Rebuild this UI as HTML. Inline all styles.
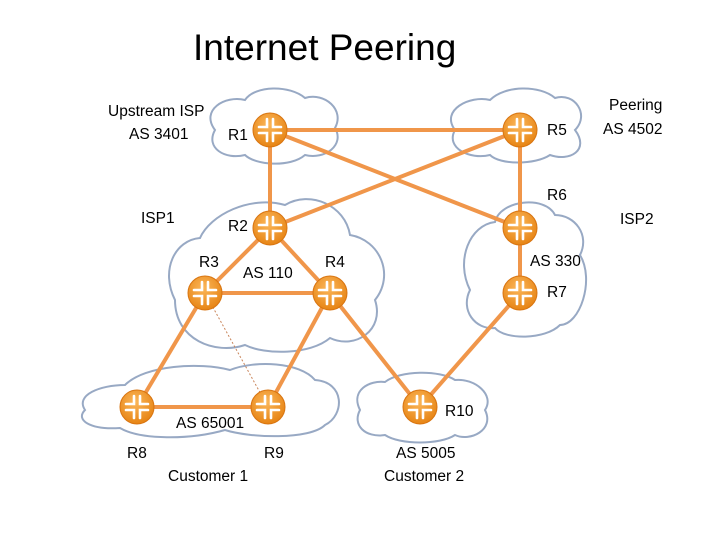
<!DOCTYPE html>
<html><head><meta charset="utf-8"><style>
body{margin:0;background:#fff}
svg text{font-family:"Liberation Sans",sans-serif;font-size:15.5px;fill:#000}
</style></head><body>
<svg width="720" height="540" viewBox="0 0 720 540" xmlns="http://www.w3.org/2000/svg">
<defs>
<radialGradient id="g" cx="0.45" cy="0.35" r="0.7">
<stop offset="0" stop-color="#fbb75a"/><stop offset="1" stop-color="#e5800f"/>
</radialGradient>
<g id="rt">
<circle r="17" fill="url(#g)" stroke="#d87410" stroke-width="1"/>
<g stroke="#fff" stroke-width="2.6" fill="none" stroke-linecap="round">
<path d="M-11,-3 H-3 V-11 M3,-11 V-3 H11 M11,3 H3 V11 M-3,11 V3 H-11"/>
</g>
</g>
</defs>
<text x="193" y="60" style="font-size:37px">Internet Peering</text>
<g fill="none" stroke="#98a9c4" stroke-width="2">
<path d="M215,130 C200,110 225,95 245,100 C255,85 290,85 305,98 C325,92 345,110 335,128 C345,145 325,160 305,155 C290,168 255,165 245,155 C225,160 205,148 215,130Z"/>
<path d="M455,130 C440,110 470,95 490,100 C505,85 540,85 555,98 C575,92 590,115 575,130 C590,150 570,162 550,155 C535,165 500,165 490,155 C470,160 445,148 455,130Z"/>
<path d="M175,300 C160,270 175,240 200,238 C210,215 250,195 285,205 C310,190 345,205 350,235 C380,240 395,275 375,300 C385,330 355,350 330,338 C310,355 265,355 245,345 C215,355 175,340 175,300Z"/>
<path d="M470,290 C455,260 470,225 495,222 C500,200 545,195 555,215 C575,215 590,235 580,255 C595,280 580,325 560,325 C545,340 505,340 495,328 C475,330 460,310 470,290Z"/>
<path d="M85,410 C75,395 100,385 125,385 C145,365 200,362 230,370 C255,360 300,362 315,380 C345,382 345,415 325,425 C310,440 250,438 225,430 C190,440 140,440 120,428 C90,430 75,420 85,410Z"/>
<path d="M360,410 C350,390 370,380 385,382 C400,370 440,370 455,380 C475,378 495,395 485,410 C495,430 470,442 455,435 C440,445 400,445 385,435 C365,438 352,425 360,410Z"/>
</g>
<g stroke="#f0964a" stroke-width="4" fill="none">
<line x1="270" y1="130" x2="520" y2="130"/>
<line x1="270" y1="130" x2="520" y2="228"/>
<line x1="270" y1="228" x2="520" y2="130"/>
<line x1="270" y1="130" x2="270" y2="228"/>
<line x1="520" y1="130" x2="520" y2="228"/>
<line x1="520" y1="228" x2="520" y2="293"/>
<line x1="270" y1="228" x2="205" y2="293"/>
<line x1="270" y1="228" x2="330" y2="293"/>
<line x1="205" y1="293" x2="330" y2="293"/>
<line x1="205" y1="293" x2="137" y2="407"/>
<line x1="330" y1="293" x2="268" y2="407"/>
<line x1="330" y1="293" x2="420" y2="407"/>
<line x1="520" y1="293" x2="420" y2="407"/>
<line x1="137" y1="407" x2="268" y2="407"/>
</g>
<line x1="205" y1="293" x2="268" y2="407" stroke="#c9855a" stroke-width="1" stroke-dasharray="2,2"/>
<use href="#rt" x="270" y="130"/><use href="#rt" x="520" y="130"/>
<use href="#rt" x="270" y="228"/><use href="#rt" x="520" y="228"/>
<use href="#rt" x="205" y="293"/><use href="#rt" x="330" y="293"/>
<use href="#rt" x="520" y="293"/><use href="#rt" x="137" y="407"/>
<use href="#rt" x="268" y="407"/><use href="#rt" x="420" y="407"/>
<text x="108" y="116">Upstream ISP</text>
<text x="129" y="139">AS 3401</text>
<text x="228" y="140">R1</text>
<text x="547" y="135">R5</text>
<text x="609" y="110">Peering</text>
<text x="603" y="134">AS 4502</text>
<text x="547" y="200">R6</text>
<text x="141" y="223">ISP1</text>
<text x="620" y="224">ISP2</text>
<text x="228" y="231">R2</text>
<text x="199" y="267">R3</text>
<text x="243" y="278">AS 110</text>
<text x="325" y="267">R4</text>
<text x="530" y="266">AS 330</text>
<text x="547" y="297">R7</text>
<text x="176" y="428">AS 65001</text>
<text x="445" y="416">R10</text>
<text x="127" y="458">R8</text>
<text x="264" y="458">R9</text>
<text x="396" y="458">AS 5005</text>
<text x="168" y="481">Customer 1</text>
<text x="384" y="481">Customer 2</text>
</svg>
</body></html>
